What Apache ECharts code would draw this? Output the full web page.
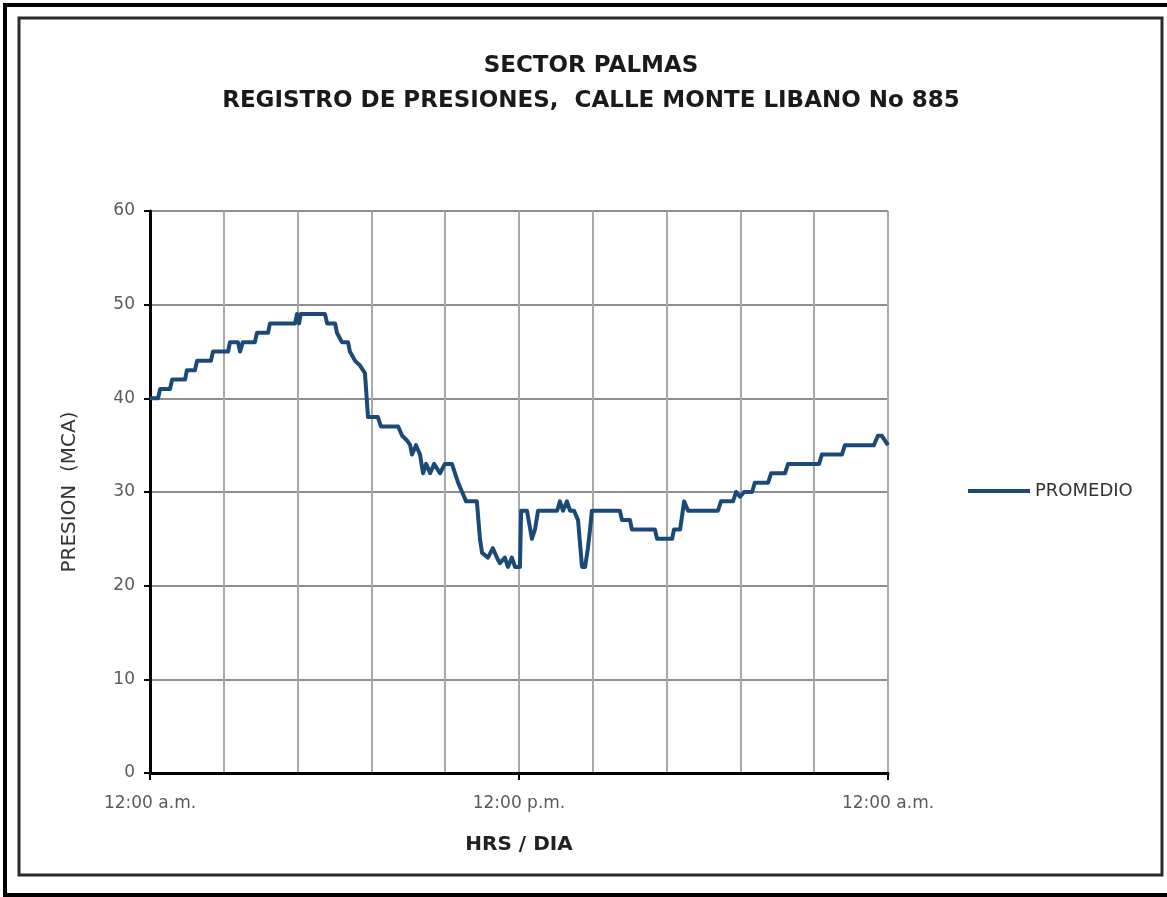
<!DOCTYPE html>
<html>
<head>
<meta charset="utf-8">
<title>Sector Palmas - Registro de presiones</title>
<script src="https://cdn.jsdelivr.net/npm/echarts@6/dist/echarts.min.js"></script>
<style>
  html, body { margin: 0; padding: 0; background: #ffffff; }
  #chart { width: 1167px; height: 897px; }
</style>
</head>
<body>
<div id="chart"></div>
<script>
// Hour of the day at each vertex of the pressure trace (0 = 12:00 a.m.)
const hours = [
  0.00, 0.26, 0.33, 0.65, 0.72, 1.14, 1.20, 1.46, 1.53, 1.98,
  2.05, 2.54, 2.60, 2.86, 2.93, 3.02, 3.41, 3.48, 3.84, 3.90,
  4.72, 4.78, 4.85, 4.90, 5.69, 5.76, 6.02, 6.08, 6.24, 6.44,
  6.50, 6.67, 6.83, 6.99, 7.09, 7.41, 7.51, 8.07, 8.20, 8.36,
  8.46, 8.52, 8.65, 8.78, 8.88, 8.98, 9.11, 9.24, 9.43, 9.59,
  9.82, 9.92, 10.02, 10.15, 10.28, 10.63, 10.73, 10.80, 10.99, 11.15,
  11.28, 11.38, 11.54, 11.64, 11.77, 11.87, 12.03, 12.07, 12.26, 12.42,
  12.52, 12.62, 13.24, 13.33, 13.43, 13.56, 13.66, 13.79, 13.92, 14.05,
  14.15, 14.24, 14.31, 14.37, 15.28, 15.35, 15.61, 15.67, 16.42, 16.49,
  16.98, 17.04, 17.24, 17.37, 17.50, 18.47, 18.57, 18.96, 19.06, 19.19,
  19.32, 19.58, 19.67, 20.10, 20.20, 20.65, 20.75, 21.76, 21.85, 22.50,
  22.60, 23.54, 23.67, 23.80, 24.00
];

// Average pressure (MCA) at each of those hours
const presion = [
  40, 40, 41, 41, 42, 42, 43, 43, 44, 44,
  45, 45, 46, 46, 45, 46, 46, 47, 47, 48,
  48, 49, 48, 49, 49, 48, 48, 47, 46, 46,
  45, 44, 43.5, 42.7, 38, 38, 37, 37, 36, 35.5,
  35, 34, 35, 34, 32, 33, 32, 33, 32, 33,
  33, 32, 31, 30, 29, 29, 25, 23.5, 23, 24,
  23, 22.4, 23, 22, 23, 22, 22, 28, 28, 25,
  26, 28, 28, 29, 28, 29, 28, 28, 27, 22,
  22, 24, 26, 28, 28, 27, 27, 26, 26, 25,
  25, 26, 26, 29, 28, 28, 29, 29, 30, 29.5,
  30, 30, 31, 31, 32, 32, 33, 33, 34, 34,
  35, 35, 36, 36, 35
];

// Labelled hour marks on the time axis
const xTickHours = [0, 12, 24];
const xTickLabels = ['12:00 a.m.', '12:00 p.m.', '12:00 a.m.'];
// Spacing of the vertical grid lines (hours)
const xGridStep = 2.4;

const seriesName = 'PROMEDIO';
const titleLine1 = 'SECTOR PALMAS';
const titleLine2 = 'REGISTRO DE PRESIONES,  CALLE MONTE LIBANO No 885';
const xName = 'HRS / DIA';
const yName = 'PRESION  (MCA)';

const FONT = 'DejaVu Sans';
const LINE_COLOR = '#1b4a78';

const points = hours.map((h, i) => [h, presion[i]]);

const chart = echarts.init(document.getElementById('chart'), null, { renderer: 'canvas' });

chart.setOption({
  backgroundColor: '#ffffff',
  animation: false,
  title: [
    {
      text: titleLine1, left: 591, top: 55, textAlign: 'center', padding: 0,
      textStyle: { fontFamily: FONT, fontSize: 23, fontWeight: 'bold', color: '#1a1a1a' }
    },
    {
      text: titleLine2, left: 591, top: 90, textAlign: 'center', padding: 0,
      textStyle: { fontFamily: FONT, fontSize: 23, fontWeight: 'bold', color: '#1a1a1a' }
    }
  ],
  legend: {
    data: [seriesName],
    left: 968, top: 482, padding: 0,
    icon: 'rect', itemWidth: 62, itemHeight: 4,
    textStyle: { fontFamily: FONT, fontSize: 18, color: '#333333' }
  },
  grid: { left: 150, top: 211, width: 738, height: 562, containLabel: false },
  xAxis: [
    {
      // vertical grid lines every 2.4 h
      type: 'value', min: 0, max: 24, interval: xGridStep, position: 'bottom',
      axisLine: { show: false }, axisTick: { show: false }, axisLabel: { show: false },
      splitLine: { show: true, lineStyle: { color: '#a9a9a9', width: 2 } }
    },
    {
      // labelled time axis
      type: 'value', min: 0, max: 24, interval: 12, position: 'bottom', offset: 0,
      name: xName, nameLocation: 'middle', nameGap: 62,
      nameTextStyle: { fontFamily: FONT, fontSize: 20, fontWeight: 'bold', color: '#222222' },
      axisLine: { show: true, lineStyle: { color: '#000000', width: 3 } },
      axisTick: { show: true, length: 7, lineStyle: { color: '#000000', width: 2 } },
      axisLabel: {
        margin: 22, fontFamily: FONT, fontSize: 17, color: '#5a5a5a',
        formatter: v => {
          const i = xTickHours.findIndex(t => Math.abs(t - v) < 1e-6);
          return i >= 0 ? xTickLabels[i] : '';
        }
      },
      splitLine: { show: false }
    }
  ],
  yAxis: {
    type: 'value', min: 0, max: 60, interval: 10,
    name: yName, nameLocation: 'middle', nameGap: 70, nameRotate: 90,
    nameTextStyle: { fontFamily: FONT, fontSize: 20, color: '#333333' },
    axisLine: { show: true, lineStyle: { color: '#000000', width: 3 } },
    axisTick: { show: true, length: 6, lineStyle: { color: '#000000', width: 2 } },
    axisLabel: { margin: 15, fontFamily: FONT, fontSize: 17, color: '#5a5a5a' },
    splitLine: { show: true, lineStyle: { color: '#8e8e8e', width: 2 } }
  },
  series: [{
    name: seriesName,
    type: 'line',
    xAxisIndex: 0,
    data: points,
    showSymbol: false,
    lineStyle: { color: LINE_COLOR, width: 4, join: 'round' },
    itemStyle: { color: LINE_COLOR },
    z: 5
  }],
  graphic: [
    // outer black edge of the sheet (right side runs off the page)
    { type: 'rect', shape: { x: 5, y: 5, width: 1172, height: 890 },
      style: { fill: 'none', stroke: '#000000', lineWidth: 4 }, silent: true, z: 100 },
    // chart frame
    { type: 'rect', shape: { x: 19, y: 18, width: 1143, height: 857 },
      style: { fill: 'none', stroke: '#2a2a2a', lineWidth: 3 }, silent: true, z: 100 }
  ]
});
</script>
</body>
</html>
